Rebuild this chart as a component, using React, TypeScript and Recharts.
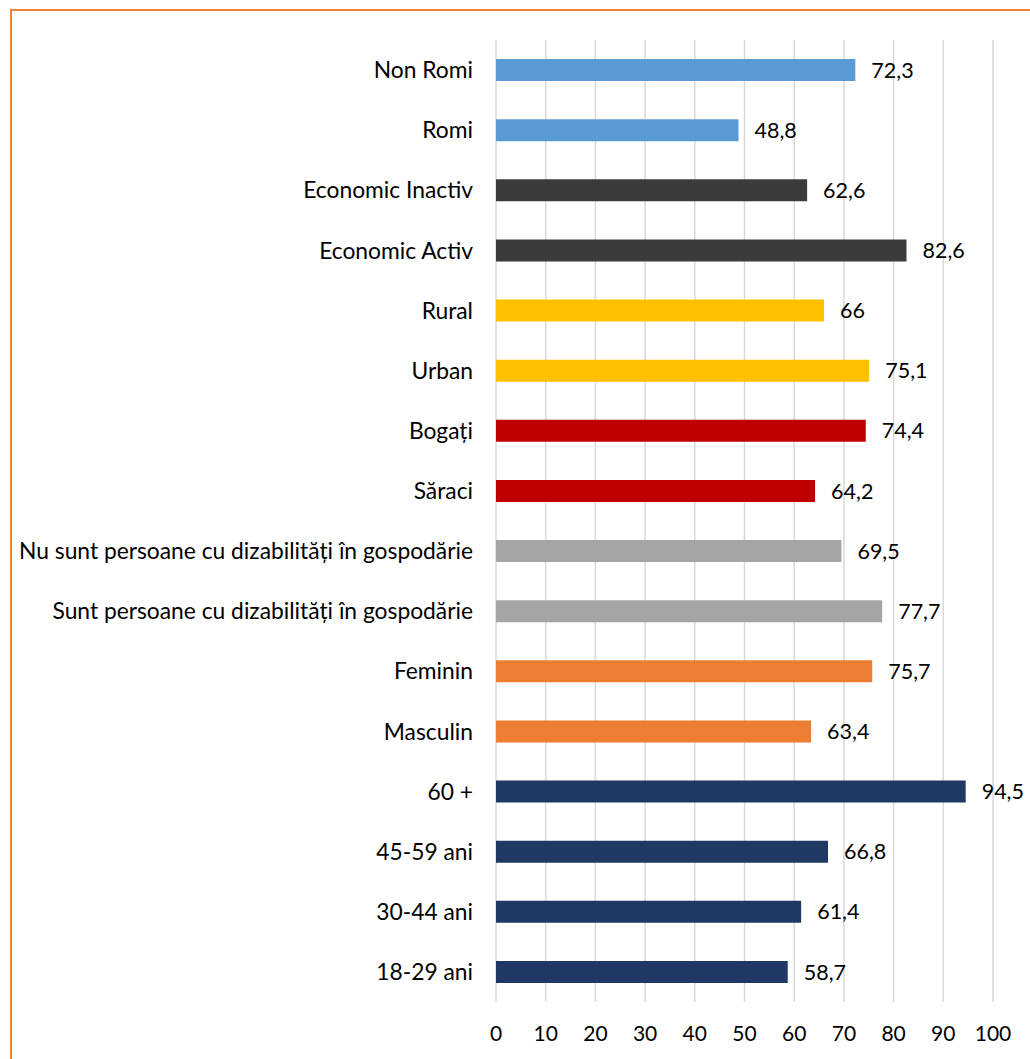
import { BarChart, Bar, XAxis, YAxis, CartesianGrid, Cell, LabelList } from 'recharts'

const categories = [
  'Non Romi',
  'Romi',
  'Economic Inactiv',
  'Economic Activ',
  'Rural',
  'Urban',
  'Bogați',
  'Săraci ',
  'Nu sunt persoane cu dizabilități în gospodărie',
  'Sunt persoane cu dizabilități în gospodărie',
  'Feminin',
  'Masculin',
  '60 +',
  '45-59 ani',
  '30-44 ani',
  '18-29 ani',
]

const values = [72.3, 48.8, 62.6, 82.6, 66, 75.1, 74.4, 64.2, 69.5, 77.7, 75.7, 63.4, 94.5, 66.8, 61.4, 58.7]

const barColors = [
  '#5B9BD5', '#5B9BD5',
  '#3B3B3B', '#3B3B3B',
  '#FFC000', '#FFC000',
  '#C00000', '#C00000',
  '#A5A5A5', '#A5A5A5',
  '#ED7D31', '#ED7D31',
  '#203864', '#203864', '#203864', '#203864',
]

const xTicks = [0, 10, 20, 30, 40, 50, 60, 70, 80, 90, 100]

const data = categories.map((name, i) => ({ name, value: values[i] }))

const font = 'Lato, "Open Sans", sans-serif'

const fmt = (v: any) => String(v).replace('.', ',')

export default function App() {
  return (
    <div
      style={{
        position: 'absolute',
        left: 0,
        top: 0,
        width: 1030,
        height: 1059,
        overflow: 'hidden',
        background: '#fff',
        fontFamily: font,
      }}
    >
      <div
        style={{
          position: 'absolute',
          left: 10,
          top: 9,
          width: 1040,
          height: 1080,
          border: '2px solid #F08436',
        }}
      />
      <div style={{ position: 'absolute', left: 0, top: 0 }}>
        <BarChart
          width={1030}
          height={1059}
          data={data}
          layout="vertical"
          margin={{ top: 40, right: 37, bottom: 0, left: 0 }}
          barCategoryGap={0}
        >
          <CartesianGrid horizontal={false} stroke="#D9D9D9" strokeWidth={1.5} />
          <XAxis
            type="number"
            domain={[0, 100]}
            ticks={xTicks}
            interval={0}
            axisLine={false}
            tickLine={false}
            tickSize={0}
            tickMargin={24}
            height={57}
            tick={{ fill: '#000', fontSize: 21, fontFamily: font }}
          />
          <YAxis
            type="category"
            dataKey="name"
            width={496}
            axisLine={false}
            tickLine={false}
            tickSize={0}
            tickMargin={23}
            interval={0}
            tick={{ fill: '#000', fontSize: 22.8, fontFamily: font }}
          />
          <Bar dataKey="value" barSize={22} isAnimationActive={false}>
            {data.map((_, i) => (
              <Cell key={i} fill={barColors[i]} />
            ))}
            <LabelList
              dataKey="value"
              position="right"
              offset={16}
              formatter={fmt}
              style={{ fill: '#000', fontSize: 21.5, fontFamily: font }}
            />
          </Bar>
        </BarChart>
      </div>
    </div>
  )
}
